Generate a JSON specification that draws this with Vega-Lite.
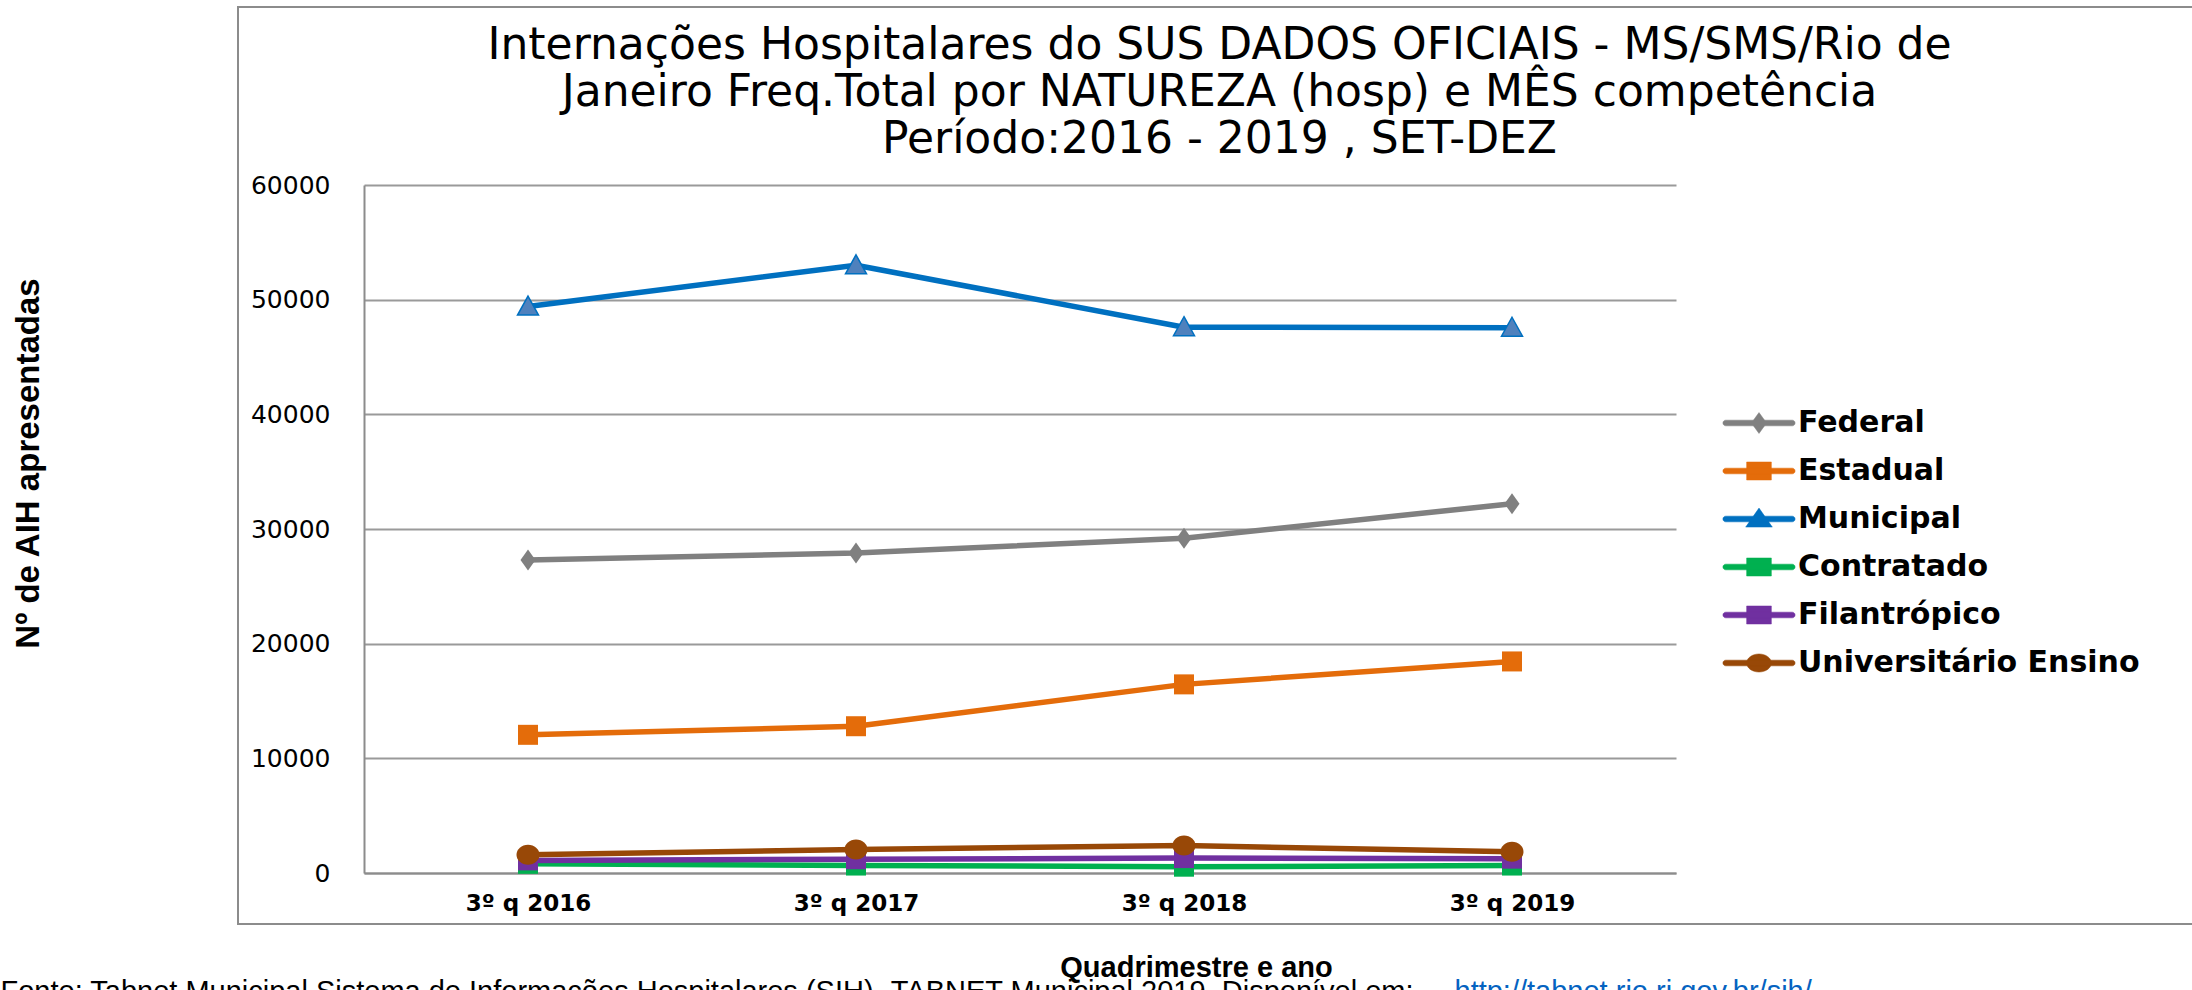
{
  "$schema": "https://vega.github.io/schema/vega-lite/v6.json",
  "autosize": {"type": "none"},
  "padding": {"left": 238, "top": 7, "right": 0, "bottom": 66},
  "width": 1960,
  "height": 917,
  "background": "white",
  "config": {"view": {"stroke": "#8c8c8c", "strokeWidth": 2}},
  "data": {
    "values": [
      {"Quadrimestre": "3º q 2016", "Natureza": "Federal", "AIH": 27300},
      {"Quadrimestre": "3º q 2017", "Natureza": "Federal", "AIH": 27900},
      {"Quadrimestre": "3º q 2018", "Natureza": "Federal", "AIH": 29200},
      {"Quadrimestre": "3º q 2019", "Natureza": "Federal", "AIH": 32200},
      {"Quadrimestre": "3º q 2016", "Natureza": "Estadual", "AIH": 12050},
      {"Quadrimestre": "3º q 2017", "Natureza": "Estadual", "AIH": 12800},
      {"Quadrimestre": "3º q 2018", "Natureza": "Estadual", "AIH": 16450},
      {"Quadrimestre": "3º q 2019", "Natureza": "Estadual", "AIH": 18450},
      {"Quadrimestre": "3º q 2016", "Natureza": "Municipal", "AIH": 49400},
      {"Quadrimestre": "3º q 2017", "Natureza": "Municipal", "AIH": 53000},
      {"Quadrimestre": "3º q 2018", "Natureza": "Municipal", "AIH": 47600},
      {"Quadrimestre": "3º q 2019", "Natureza": "Municipal", "AIH": 47550},
      {"Quadrimestre": "3º q 2016", "Natureza": "Contratado", "AIH": 800},
      {"Quadrimestre": "3º q 2017", "Natureza": "Contratado", "AIH": 650},
      {"Quadrimestre": "3º q 2018", "Natureza": "Contratado", "AIH": 550},
      {"Quadrimestre": "3º q 2019", "Natureza": "Contratado", "AIH": 650},
      {"Quadrimestre": "3º q 2016", "Natureza": "Filantrópico", "AIH": 1100},
      {"Quadrimestre": "3º q 2017", "Natureza": "Filantrópico", "AIH": 1200},
      {"Quadrimestre": "3º q 2018", "Natureza": "Filantrópico", "AIH": 1300},
      {"Quadrimestre": "3º q 2019", "Natureza": "Filantrópico", "AIH": 1250},
      {"Quadrimestre": "3º q 2016", "Natureza": "Universitário Ensino", "AIH": 1600},
      {"Quadrimestre": "3º q 2017", "Natureza": "Universitário Ensino", "AIH": 2050},
      {"Quadrimestre": "3º q 2018", "Natureza": "Universitário Ensino", "AIH": 2400},
      {"Quadrimestre": "3º q 2019", "Natureza": "Universitário Ensino", "AIH": 1850}
    ]
  },
  "resolve": {"axis": {"x": "independent", "y": "independent"}},
  "layer": [
    {
      "mark": {"type": "line", "strokeWidth": 5.5, "strokeCap": "round", "strokeJoin": "round"},
      "encoding": {
        "x": {
          "field": "Quadrimestre", "type": "ordinal", "sort": null,
          "scale": {"type": "point", "range": [126, 1438], "padding": 0.5},
          "axis": {
            "orient": "bottom", "offset": -51, "grid": false, "ticks": false, "tickSize": 0,
            "domainColor": "#8c8c8c", "domainWidth": 2,
            "labelAngle": 0, "labelFont": "DejaVu Sans", "labelFontSize": 23, "labelFontWeight": "bold", "labelColor": "#000000", "labelPadding": 19,
            "title": "Quadrimestre e ano", "titleX": 958, "titleY": 103, "titleAlign": "center", "titleBaseline": "alphabetic",
            "titleFont": "Liberation Sans", "titleFontSize": 29, "titleFontWeight": "bold", "titleColor": "#000000", "titleLimit": 3000
          }
        },
        "y": {
          "field": "AIH", "type": "quantitative",
          "scale": {"domain": [0, 60000], "range": [866, 178], "nice": false},
          "axis": {
            "orient": "left", "offset": -126, "values": [0, 10000, 20000, 30000, 40000, 50000, 60000], "format": "d",
            "grid": true, "gridColor": "#9a9a9a", "gridWidth": 2,
            "domainColor": "#8c8c8c", "domainWidth": 2, "ticks": false, "tickSize": 0,
            "labelFont": "DejaVu Sans", "labelFontSize": 25, "labelColor": "#000000", "labelPadding": 34,
            "title": "Nº de AIH apresentadas", "titleX": -336, "titleY": 456, "titleAngle": -90, "titleAlign": "center", "titleBaseline": "middle",
            "titleFont": "Liberation Sans", "titleFontSize": 33, "titleFontWeight": "bold", "titleColor": "#000000", "titleLimit": 3000
          }
        },
        "color": {
          "field": "Natureza", "type": "nominal",
          "scale": {
            "domain": ["Federal", "Estadual", "Municipal", "Contratado", "Filantrópico", "Universitário Ensino"],
            "range": ["#808080", "#E46C0A", "#0070C0", "#00B050", "#7030A0", "#984807"]
          },
          "legend": {
            "orient": "none", "legendX": 1506, "legendY": 401, "title": null, "padding": 0,
            "labelFont": "DejaVu Sans", "labelFontSize": 30, "labelFontWeight": "bold", "labelColor": "#000000",
            "labelLimit": 800, "labelOffset": 24, "rowPadding": 18, "symbolSize": 361,
            "encode": {
              "symbols": {
                "update": {
                  "shape": {"signal": "datum.value === 'Federal' ? 'M-3.5,-0.3L3.5,-0.3A0.3,0.3,0,0,1,3.5,0.3L-3.5,0.3A0.3,0.3,0,0,1,-3.5,-0.3ZM0,-1.1L0.8,0L0,1.1L-0.8,0Z' : datum.value === 'Municipal' ? 'M-3.5,-0.3L3.5,-0.3A0.3,0.3,0,0,1,3.5,0.3L-3.5,0.3A0.3,0.3,0,0,1,-3.5,-0.3ZM0,-1.15L1.4,0.85L-1.4,0.85Z' : datum.value === 'Universitário Ensino' ? 'M-3.5,-0.3L3.5,-0.3A0.3,0.3,0,0,1,3.5,0.3L-3.5,0.3A0.3,0.3,0,0,1,-3.5,-0.3ZM-1.3,0A1.3,0.95,0,1,1,1.3,0A1.3,0.95,0,1,1,-1.3,0Z' : 'M-3.5,-0.3L3.5,-0.3A0.3,0.3,0,0,1,3.5,0.3L-3.5,0.3A0.3,0.3,0,0,1,-3.5,-0.3ZM-1.3,-0.95L1.3,-0.95L1.3,0.95L-1.3,0.95Z'"},
                  "size": {"value": 361},
                  "fill": {"signal": "scale('color', datum.value)"},
                  "stroke": {"signal": "scale('color', datum.value)"},
                  "strokeWidth": {"value": 0.5},
                  "opacity": {"value": 1},
                  "fillOpacity": {"value": 1}
                }
              }
            }
          }
        }
      }
    },
    {
      "transform": [{"filter": "datum.Natureza === 'Federal'"}],
      "mark": {"type": "point", "filled": true, "size": 400, "opacity": 1, "shape": "M0,-1.05L0.75,0L0,1.05L-0.75,0Z"},
      "encoding": {
        "x": {
          "field": "Quadrimestre", "type": "ordinal", "sort": null,
          "axis": {
            "orient": "top", "labels": false, "ticks": false, "domain": false, "grid": false,
            "title": ["Internações Hospitalares do SUS DADOS OFICIAIS - MS/SMS/Rio de", "Janeiro Freq.Total por NATUREZA (hosp) e MÊS competência", "Período:2016 - 2019 , SET-DEZ"],
            "titleX": 981, "titleY": 51, "titleAlign": "center", "titleBaseline": "alphabetic",
            "titleFont": "DejaVu Sans", "titleFontSize": 44, "titleFontWeight": "normal", "titleLineHeight": 47, "titleColor": "#000000", "titleLimit": 3000
          }
        },
        "y": {
          "field": "AIH", "type": "quantitative",
          "axis": {
            "orient": "right", "labels": false, "ticks": false, "domain": false, "grid": false,
            "title": "Fonte: Tabnet Municipal Sistema de Informações Hospitalares (SIH)- TABNET Municipal 2019. Disponível em: ",
            "titleX": -2198, "titleY": 993, "titleAngle": 0, "titleAlign": "left", "titleBaseline": "alphabetic",
            "titleFont": "Liberation Sans", "titleFontSize": 29, "titleFontWeight": "normal", "titleColor": "#000000", "titleLimit": 3000
          }
        },
        "color": {"field": "Natureza", "type": "nominal", "legend": null}
      }
    },
    {
      "transform": [{"filter": "datum.Natureza === 'Municipal'"}],
      "mark": {"type": "point", "filled": true, "size": 400, "opacity": 1, "shape": "M0,-1.05L1.05,0.85L-1.05,0.85Z", "fill": "#4F81BD", "stroke": "#0070C0", "strokeWidth": 1.5},
      "encoding": {
        "x": {"field": "Quadrimestre", "type": "ordinal", "sort": null, "axis": null},
        "y": {
          "field": "AIH", "type": "quantitative",
          "axis": {
            "orient": "right", "labels": false, "ticks": false, "domain": false, "grid": false,
            "title": "http://tabnet.rio.rj.gov.br/sih/",
            "titleX": -744, "titleY": 993, "titleAngle": 0, "titleAlign": "left", "titleBaseline": "alphabetic",
            "titleFont": "Liberation Sans", "titleFontSize": 29, "titleFontWeight": "normal", "titleColor": "#0563C1", "titleLimit": 3000
          }
        }
      }
    },
    {
      "transform": [{"filter": "datum.Natureza === 'Estadual' || datum.Natureza === 'Contratado' || datum.Natureza === 'Filantrópico'"}],
      "mark": {"type": "point", "filled": true, "size": 400, "opacity": 1, "shape": "square"},
      "encoding": {
        "x": {"field": "Quadrimestre", "type": "ordinal", "sort": null, "axis": null},
        "y": {"field": "AIH", "type": "quantitative", "axis": null},
        "color": {"field": "Natureza", "type": "nominal", "legend": null}
      }
    },
    {
      "transform": [{"filter": "datum.Natureza === 'Universitário Ensino'"}],
      "mark": {"type": "point", "filled": true, "size": 400, "opacity": 1, "shape": "M-1.15,0A1.15,1,0,1,1,1.15,0A1.15,1,0,1,1,-1.15,0Z"},
      "encoding": {
        "x": {"field": "Quadrimestre", "type": "ordinal", "sort": null, "axis": null},
        "y": {"field": "AIH", "type": "quantitative", "axis": null},
        "color": {"field": "Natureza", "type": "nominal", "legend": null}
      }
    }
  ]
}
